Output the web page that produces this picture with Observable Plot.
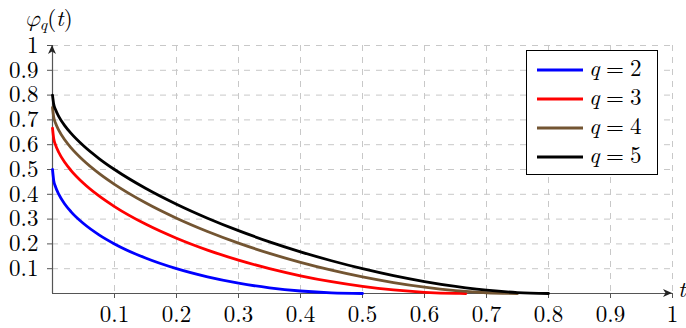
<!DOCTYPE html>
<html>
<head>
<meta charset="utf-8">
<script src="https://cdn.jsdelivr.net/npm/d3@7"></script>
<script src="https://cdn.jsdelivr.net/npm/@observablehq/plot@0.6"></script>
<style>
  html, body { margin: 0; padding: 0; background: #fff; }
  #chart { width: 686px; height: 328px; }
</style>
</head>
<body>
<div id="chart"></div>
<script>
// ---- data ----
const tGrid = [0, 0.002, 0.005, 0.01, 0.02, 0.03, 0.05, 0.075, 0.1, 0.15, 0.2, 0.25, 0.3, 0.35, 0.4, 0.45, 0.5, 0.55, 0.6, 0.65, 0.6667, 0.7, 0.75, 0.8];
const phiQ2 = [0.5, 0.4553, 0.4295, 0.4005, 0.36, 0.3294, 0.2821, 0.2366, 0.2, 0.1429, 0.1, 0.0670, 0.0417, 0.0230, 0.0101, 0.0025, 0, null, null, null, null, null, null, null];
const phiQ3 = [0.6667, 0.6239, 0.5985, 0.5695, 0.5280, 0.4958, 0.4445, 0.3933, 0.3505, 0.2800, 0.2229, 0.1751, 0.1346, 0.1003, 0.0715, 0.0476, 0.0286, 0.0143, 0.0048, 0.0003, 0, null, null, null];
const phiQ4 = [0.75, 0.7103, 0.6864, 0.6588, 0.6188, 0.5873, 0.5363, 0.4844, 0.4402, 0.3658, 0.3036, 0.25, 0.2031, 0.1619, 0.1257, 0.0942, 0.0670, 0.0442, 0.0257, 0.0119, 0.0084, 0.0031, 0, null];
const phiQ5 = [0.8, 0.7631, 0.7406, 0.7144, 0.676, 0.6455, 0.5956, 0.5443, 0.5, 0.4243, 0.36, 0.3036, 0.2534, 0.2084, 0.1681, 0.1320, 0.1, 0.0720, 0.0481, 0.0284, 0.0229, 0.0134, 0.0036, 0];
const seriesNames = ["q = 2", "q = 3", "q = 4", "q = 5"];
const seriesQ = ["2", "3", "4", "5"];
const seriesColors = ["#0000ff", "#ff0000", "#735532", "#000000"];
const xTicks = [0.1, 0.2, 0.3, 0.4, 0.5, 0.6, 0.7, 0.8, 0.9, 1];
const yTicks = [0.1, 0.2, 0.3, 0.4, 0.5, 0.6, 0.7, 0.8, 0.9, 1];

const seriesValues = [phiQ2, phiQ3, phiQ4, phiQ5];
const rows = [];
seriesValues.forEach((vals, i) => {
  vals.forEach((v, j) => { if (v !== null) rows.push({t: tGrid[j], phi: v, s: seriesNames[i]}); });
});

const FONT = "'Latin Modern Roman', 'Liberation Serif', serif";
const FS = 23;
const fmt = d => String(d);

const plot = Plot.plot({
  width: 686,
  height: 328,
  marginLeft: 52,
  marginRight: 14,
  marginTop: 45,
  marginBottom: 35,
  style: `font-family: ${FONT}; font-size: ${FS}px; background: #fff; color: #000;`,
  x: {domain: [0, 1]},
  y: {domain: [0, 1]},
  color: {domain: seriesNames, range: seriesColors},
  marks: [
    Plot.gridX(xTicks, {stroke: "#c8c8c8", strokeOpacity: 1, strokeWidth: 1, strokeDasharray: "6,6"}),
    Plot.gridY(yTicks, {stroke: "#c8c8c8", strokeOpacity: 1, strokeWidth: 1, strokeDasharray: "6,6"}),
    Plot.axisX(xTicks, {tickSize: 5, tickPadding: 7, tickFormat: fmt, stroke: "#555", fontSize: FS, label: null}),
    Plot.axisY(yTicks, {tickSize: 5, tickPadding: 9, tickFormat: fmt, stroke: "#555", fontSize: FS, label: null}),
    Plot.ruleY([0], {stroke: "#555", strokeWidth: 1.2}),
    Plot.ruleX([0], {stroke: "#555", strokeWidth: 1.2}),
    Plot.line(rows, {x: "t", y: "phi", z: "s", stroke: "s", strokeWidth: 2.8, curve: "monotone-x"})
  ]
});

document.getElementById("chart").appendChild(plot);

const svg = d3.select(plot);
svg.selectAll("text").style("font-family", FONT);
const xs = plot.scale("x"), ys = plot.scale("y");
const x0 = xs.apply(0), x1 = xs.apply(1), y0 = ys.apply(0), y1 = ys.apply(1);

// arrowheads (stealth-like)
svg.append("path")
  .attr("d", `M${x1},${y0} L${x1 - 9},${y0 - 4} L${x1 - 6.5},${y0} L${x1 - 9},${y0 + 4} Z`)
  .attr("fill", "#222");
svg.append("path")
  .attr("d", `M${x0},${y1} L${x0 - 4},${y1 + 9} L${x0},${y1 + 6.5} L${x0 + 4},${y1 + 9} Z`)
  .attr("fill", "#222");

// axis labels
const lab = svg.append("text").attr("x", 25).attr("y", 26).attr("text-anchor", "start")
  .style("font-family", FONT).style("font-size", "23px").attr("fill", "#000");
lab.append("tspan").style("font-style", "italic")
  .style("font-family", "'Latin Modern Math', 'Liberation Serif', serif").text("φ");
lab.append("tspan").style("font-style", "italic").style("font-size", "16px").attr("dy", 4).text("q");
lab.append("tspan").attr("dy", -4).text("(");
lab.append("tspan").style("font-style", "italic").text("t");
lab.append("tspan").text(")");

svg.append("text").attr("x", x1 + 6).attr("y", y0 + 4).attr("text-anchor", "start")
  .style("font-family", FONT).style("font-size", FS + "px").style("font-style", "italic").text("t");

// legend box
const lg = svg.append("g").attr("text-anchor", "start");
lg.append("rect").attr("x", 526.5).attr("y", 50.5).attr("width", 131).attr("height", 124)
  .attr("fill", "#fff").attr("stroke", "#000").attr("stroke-width", 1);
const rowY = [70, 99, 128, 157];
seriesNames.forEach((n, i) => {
  lg.append("line").attr("x1", 537).attr("x2", 583).attr("y1", rowY[i]).attr("y2", rowY[i])
    .attr("stroke", seriesColors[i]).attr("stroke-width", 2.8);
  const tx = lg.append("text").attr("y", rowY[i] + 6).attr("text-anchor", "start")
    .style("font-family", FONT).style("font-size", FS + "px").attr("fill", "#000");
  tx.append("tspan").attr("x", 589).style("font-style", "italic").text("q");
  tx.append("tspan").attr("x", 606).text("=");
  tx.append("tspan").attr("x", 630).text(seriesQ[i]);
});
</script>
</body>
</html>
